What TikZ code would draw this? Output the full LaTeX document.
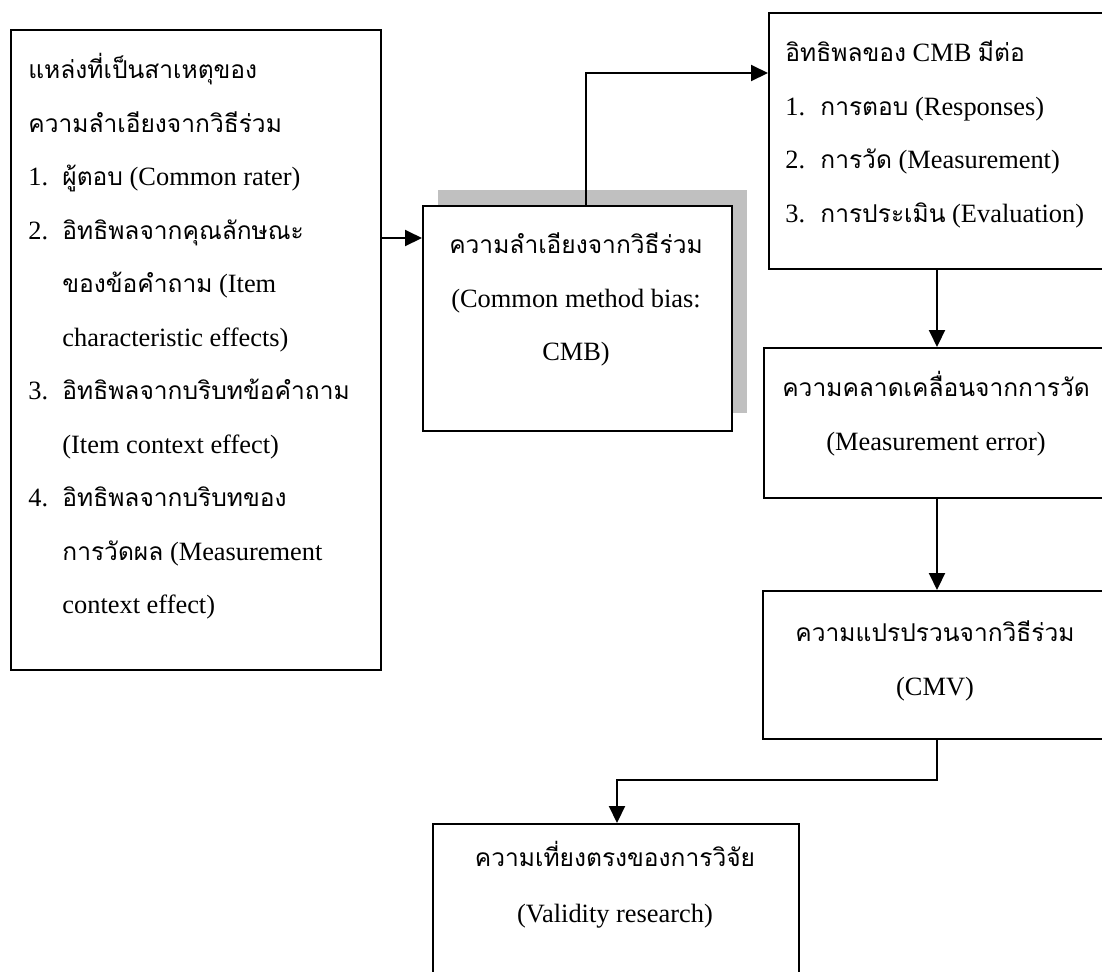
\documentclass[tikz,border=0pt]{standalone}
\usepackage{fontspec}
\setmainfont{Liberation Serif}
\newfontfamily\thaifont[Script=Thai,Scale=0.93]{Loma}
\newcommand\thtxt[1]{{\thaifont #1}}
\usetikzlibrary{arrows.meta,calc}
\definecolor{shadowgray}{RGB}{192,192,192}
\tikzset{
  box/.style={draw=black, line width=1pt, fill=white, inner sep=0pt, anchor=north west},
  arr/.style={line width=1pt, -{Triangle[length=8.5pt,width=8pt]}},
  ltxt/.style={anchor=base west, inner sep=0pt},
  ctxt/.style={anchor=base, inner sep=0pt},
}
\begin{document}
\begin{tikzpicture}[x=0.5pt,y=-0.5pt,font=\fontsize{13.2}{16}\selectfont]
\useasboundingbox (0,0) rectangle (1102,971);
\clip (0,0) rectangle (1102,971);

% boxes
\node[box, minimum width=185pt, minimum height=320pt] (A) at (10,29) {};
\fill[shadowgray] (438,190) rectangle (747,413);
\node[box, minimum width=154.5pt, minimum height=112.5pt] (CMB) at (422,205) {};
\node[box, minimum width=173pt, minimum height=128pt] (B) at (768,12) {};
\node[box, minimum width=173pt, minimum height=75pt] (C) at (763,347) {};
\node[box, minimum width=173pt, minimum height=74pt] (D) at (762,590) {};
\node[box, minimum width=183pt, minimum height=100pt] (E) at (432,823) {};

% sources of bias
\node[ltxt] (a1) at (28,78.5) {\thtxt{แหล่งที่เป็นสาเหตุของ}};
\node[ltxt] (a2) at (28,132) {\thtxt{ความลำเอียงจากวิธีร่วม}};
\node[ltxt] (a3n) at (28,185.5) {1.};
\node[ltxt] (a3) at (62,185.5) {\thtxt{ผู้ตอบ} (Common rater)};
\node[ltxt] (a4n) at (28,239) {2.};
\node[ltxt] (a4) at (62,239) {\thtxt{อิทธิพลจากคุณลักษณะ}};
\node[ltxt] (a5) at (62,292.5) {\thtxt{ของข้อคำถาม} (Item};
\node[ltxt] (a6) at (62,346) {characteristic effects)};
\node[ltxt] (a7n) at (28,399.5) {3.};
\node[ltxt] (a7) at (62,399.5) {\thtxt{อิทธิพลจากบริบทข้อคำถาม}};
\node[ltxt] (a8) at (62,453) {(Item context effect)};
\node[ltxt] (a9n) at (28,506.5) {4.};
\node[ltxt] (a9) at (62,506.5) {\thtxt{อิทธิพลจากบริบทของ}};
\node[ltxt] (a10) at (62,560) {\thtxt{การวัดผล} (Measurement};
\node[ltxt] (a11) at (62,613.5) {context effect)};

% common method bias
\node[ctxt] (m1) at (576,253.5) {\thtxt{ความลำเอียงจากวิธีร่วม}};
\node[ctxt] (m2) at (576,307) {(Common method bias:};
\node[ctxt] (m3) at (576,360.5) {CMB)};

% effects of CMB
\node[ltxt] (b1) at (785,61.5) {\thtxt{อิทธิพลของ} CMB \thtxt{มีต่อ}};
\node[ltxt] (b2n) at (785,115) {1.};
\node[ltxt] (b2) at (820,115) {\thtxt{การตอบ} (Responses)};
\node[ltxt] (b3n) at (785,168.5) {2.};
\node[ltxt] (b3) at (820,168.5) {\thtxt{การวัด} (Measurement)};
\node[ltxt] (b4n) at (785,222) {3.};
\node[ltxt] (b4) at (820,222) {\thtxt{การประเมิน} (Evaluation)};

% measurement error
\node[ctxt] (c1) at (936,396.5) {\thtxt{ความคลาดเคลื่อนจากการวัด}};
\node[ctxt] (c2) at (936,450) {(Measurement error)};

% common method variance
\node[ctxt] (d1) at (935,641.5) {\thtxt{ความแปรปรวนจากวิธีร่วม}};
\node[ctxt] (d2) at (935,695) {(CMV)};

% validity
\node[ctxt] (e1) at (615,866.5) {\thtxt{ความเที่ยงตรงของการวิจัย}};
\node[ctxt] (e2) at (615,922) {(Validity research)};

% connectors
\draw[arr] ($(A.north east)+(0,209)$) -- ($(CMB.north west)+(0,33)$);
\draw[arr] ($(CMB.north west)+(164,0)$) |- ($(B.north west)+(0,61)$);
\draw[arr] ($(B.south west)+(169,0)$) coordinate (bc) -- (bc |- C.north);
\draw[arr] ($(C.south west)+(174,0)$) coordinate (cd) -- (cd |- D.north);
\draw[arr] ($(D.south west)+(175,0)$) -- ++(0,40) -| ($(E.north west)+(185,0)$);
\end{tikzpicture}
\end{document}
